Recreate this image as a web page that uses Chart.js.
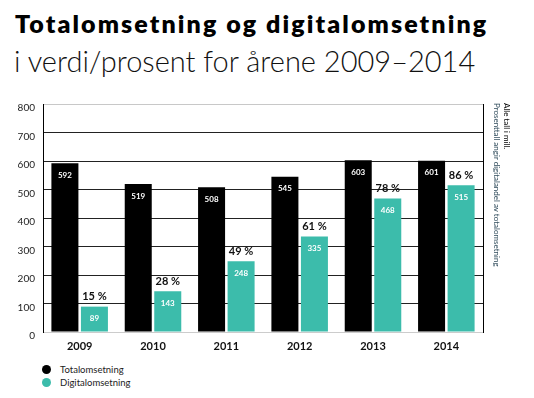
<!DOCTYPE html>
<html>
<head>
<meta charset="utf-8">
<script src="https://cdn.jsdelivr.net/npm/chart.js@4.4.1/dist/chart.umd.min.js"></script>
<style>
  body { margin: 0; background: #fff; width: 534px; height: 398px; position: relative; overflow: hidden; font-family: Lato, "Open Sans", sans-serif; }
  #title { position: absolute; left: 15px; top: 8px; font: 800 25px Lato, sans-serif; letter-spacing: 2.1px; color: #000; white-space: nowrap; }
  #subtitle { position: absolute; left: 14px; top: 43px; font: 300 29px Lato, sans-serif; color: #111; white-space: nowrap; }
  #wrap { position: absolute; left: 0; top: 90px; width: 534px; height: 270px; }
  #notes { position: absolute; left: 492px; top: 103px; writing-mode: vertical-rl; font: 8px Lato, sans-serif; line-height: 10px; }
  #notes .n2 { color: #2e4a5a; }
  #legend { position: absolute; left: 42px; top: 363px; font: 9.5px Lato, sans-serif; color: #222; }
  #legend div { height: 13px; line-height: 13px; }
  #legend span { display: inline-block; width: 9px; height: 9px; border-radius: 50%; margin-right: 9px; vertical-align: -1px; }
</style>
</head>
<body>
<div id="title">Totalomsetning og digitalomsetning</div>
<div id="subtitle">i verdi/prosent for årene 2009–2014</div>
<div id="wrap"><canvas id="chart"></canvas></div>
<div id="notes"><div>Alle tall i mill.</div><div class="n2">Prosenttall angir digitalandel av totalomsetning</div></div>
<div id="legend"></div>
<script>
// Data
const years = ['2009', '2010', '2011', '2012', '2013', '2014'];
const totalSales = [592, 519, 508, 545, 603, 601];
const digitalSales = [89, 143, 248, 335, 468, 515];
const digitalShare = [15, 28, 49, 61, 78, 86];
const yTicks = [0, 100, 200, 300, 400, 500, 600, 700, 800];

const BLACK = '#000000';
const TEAL = '#3cbcab';

// Etiketter på og over søylene
const labelPlugin = {
    id: 'barLabels',
    afterDatasetsDraw(chart) {
        const ctx = chart.ctx;
        ctx.save();
        ctx.textAlign = 'center';
        ctx.textBaseline = 'middle';
        chart.data.datasets.forEach((ds, i) => {
            const meta = chart.getDatasetMeta(i);
            meta.data.forEach((bar, j) => {
                ctx.fillStyle = '#fff';
                ctx.font = 'bold 8px Lato, sans-serif';
                ctx.fillText(ds.data[j], bar.x, bar.y + 12);
                if (i === 1) {
                    ctx.fillStyle = '#111';
                    ctx.font = 'bold 11px Lato, sans-serif';
                    ctx.fillText(digitalShare[j] + ' %', bar.x, bar.y - 10);
                }
            });
        });
        ctx.restore();
    }
};

const chart = new Chart(document.getElementById('chart'), {
    type: 'bar',
    data: {
        labels: years,
        datasets: [
            { label: 'Totalomsetning', data: totalSales, backgroundColor: BLACK },
            { label: 'Digitalomsetning', data: digitalSales, backgroundColor: TEAL }
        ]
    },
    options: {
        responsive: true,
        maintainAspectRatio: false,
        animation: false,
        categoryPercentage: 0.805,
        barPercentage: 0.915,
        layout: { padding: { top: 14, right: 0, left: 0, bottom: 0 } },
        plugins: {
            legend: { display: false },
            tooltip: { enabled: false }
        },
        scales: {
            x: {
                grid: { display: false },
                border: { color: '#cccccc' },
                ticks: { color: '#111', padding: 0, font: { family: 'Lato', weight: 'bold', size: 11 } },
                afterFit: s => { s.height = 28; }
            },
            y: {
                min: 0,
                max: 800,
                afterBuildTicks: s => { s.ticks = yTicks.map(v => ({ value: v })); },
                grid: {
                    drawTicks: false,
                    color: c => (c.tick.value === 0 || c.tick.value === 800) ? '#c8c8c8' : '#222222'
                },
                border: { color: '#000' },
                ticks: { color: '#222', padding: 8, labelOffset: 4, font: { family: 'Lato', size: 10 } },
                afterFit: s => { s.width = 43; }
            },
            y2: {
                position: 'right',
                min: 0,
                max: 800,
                grid: { drawOnChartArea: false, drawTicks: false },
                border: { color: '#000' },
                ticks: { display: false },
                afterFit: s => { s.width = 51; }
            }
        }
    },
    plugins: [labelPlugin]
});

// HTML-forklaring
const legend = document.getElementById('legend');
chart.data.datasets.forEach(ds => {
    const row = document.createElement('div');
    row.innerHTML = `<span style="background:${ds.backgroundColor}"></span>${ds.label}`;
    legend.appendChild(row);
});
</script>
</body>
</html>
